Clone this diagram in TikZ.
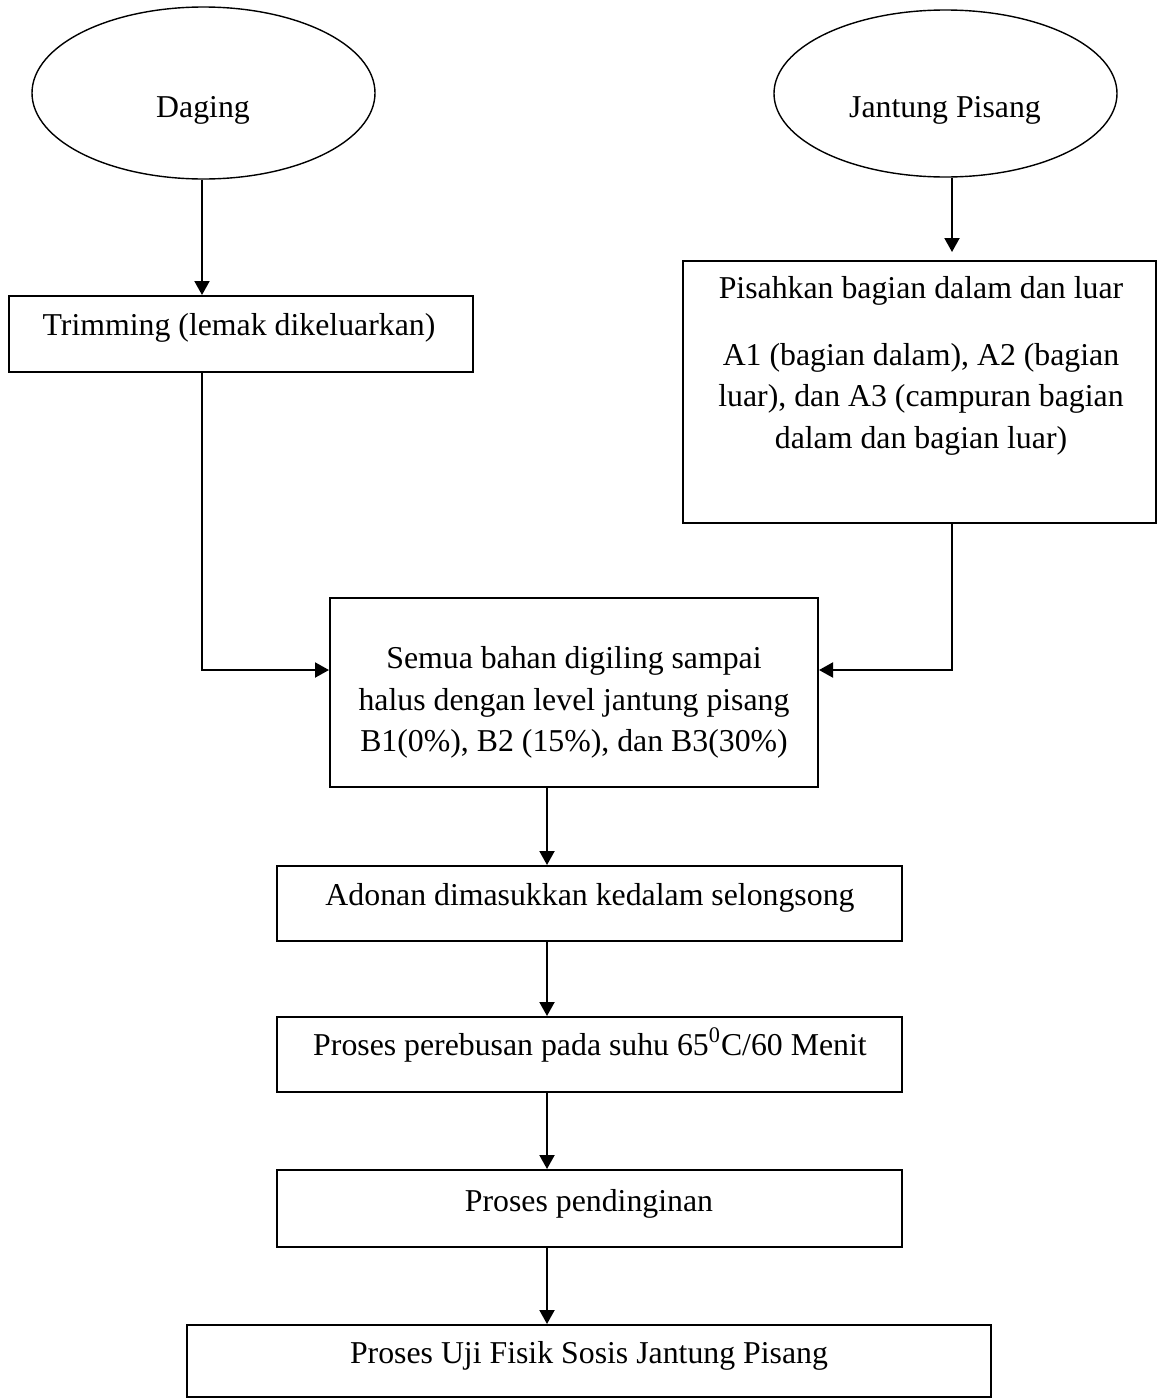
\documentclass[tikz,border=0pt]{standalone}
\usepackage{fontspec}
\setmainfont{Liberation Serif}
\usetikzlibrary{shapes.geometric,arrows.meta}
\begin{document}
\begin{tikzpicture}[x=0.5pt,y=-0.5pt,
  box/.style={draw,line width=1pt,rectangle,inner sep=0pt},
  oval/.style={draw,line width=0.7pt,ellipse,inner sep=0pt},
  txt/.style={font=\fontsize{15.9}{20.75}\selectfont,inner sep=0pt,align=center},
  arr/.style={line width=1pt,-{Triangle[length=7pt,width=7.5pt]}},
  link/.style={line width=1pt}]
\useasboundingbox (0,0) rectangle (1157,1398);
% start ovals
\node[oval,minimum width=171.5pt,minimum height=86pt] (dg) at (203.5,93) {};
\node[oval,minimum width=171.5pt,minimum height=83.5pt] (jp) at (945.5,93.5) {};
\node[txt,anchor=base] (dgt) at (203,117) {Daging};
\node[txt,anchor=base] (jpt) at (945,117) {Jantung Pisang};
% process boxes
\node[box,minimum width=232pt,minimum height=38pt] (trim) at (241,334) {};
\node[txt,anchor=base] (trimt) at (239,335) {Trimming (lemak dikeluarkan)};
\node[box,minimum width=236.5pt,minimum height=131pt] (pis) at (919.5,392) {};
\node[txt,anchor=base] (pist) at (921,298) {Pisahkan bagian dalam dan luar};
\node[txt] (pisd) at (921,399) {A1 (bagian dalam), A2 (bagian\\luar), dan A3 (campuran bagian\\dalam dan bagian luar)};
\node[box,minimum width=244pt,minimum height=94.5pt] (sem) at (574,692.5) {};
\node[txt] (semt) at (574,702.5) {Semua bahan digiling sampai\\halus dengan level jantung pisang\\B1(0\%), B2 (15\%), dan B3(30\%)};
\node[box,minimum width=312.5pt,minimum height=37.5pt] (ado) at (589.5,903.5) {};
\node[txt,anchor=base] (adot) at (590,905) {Adonan dimasukkan kedalam selongsong};
\node[box,minimum width=312.5pt,minimum height=37.5pt] (reb) at (589.5,1054.5) {};
\node[txt,anchor=base] (rebt) at (590,1055) {Proses perebusan pada suhu 65\textsuperscript{0}C/60 Menit};
\node[box,minimum width=312.5pt,minimum height=38.5pt] (din) at (589.5,1208.5) {};
\node[txt,anchor=base] (dint) at (589,1211) {Proses pendinginan};
\node[box,minimum width=402pt,minimum height=36pt] (uji) at (589,1361) {};
\node[txt,anchor=base] (ujit) at (589,1363) {Proses Uji Fisik Sosis Jantung Pisang};
% connector guides
\coordinate (lx) at (202,0);
\coordinate (rx) at (952,0);
\coordinate (mx) at (547,0);
\coordinate (ay) at (0,670);
\coordinate (jtip) at (952,252);
% connectors
\draw[arr] (lx |- dg.south) -- (lx |- trim.north);
\draw[arr] (rx |- jp.south) -- (jtip);
\draw[arr] (lx |- trim.south) -- (lx |- ay) -- (sem.west |- ay);
\draw[arr] (rx |- pis.south) -- (rx |- ay) -- (sem.east |- ay);
\draw[arr] (mx |- sem.south) -- (mx |- ado.north);
\draw[arr] (mx |- ado.south) -- (mx |- reb.north);
\draw[arr] (mx |- reb.south) -- (mx |- din.north);
\draw[arr] (mx |- din.south) -- (mx |- uji.north);
\end{tikzpicture}
\end{document}
